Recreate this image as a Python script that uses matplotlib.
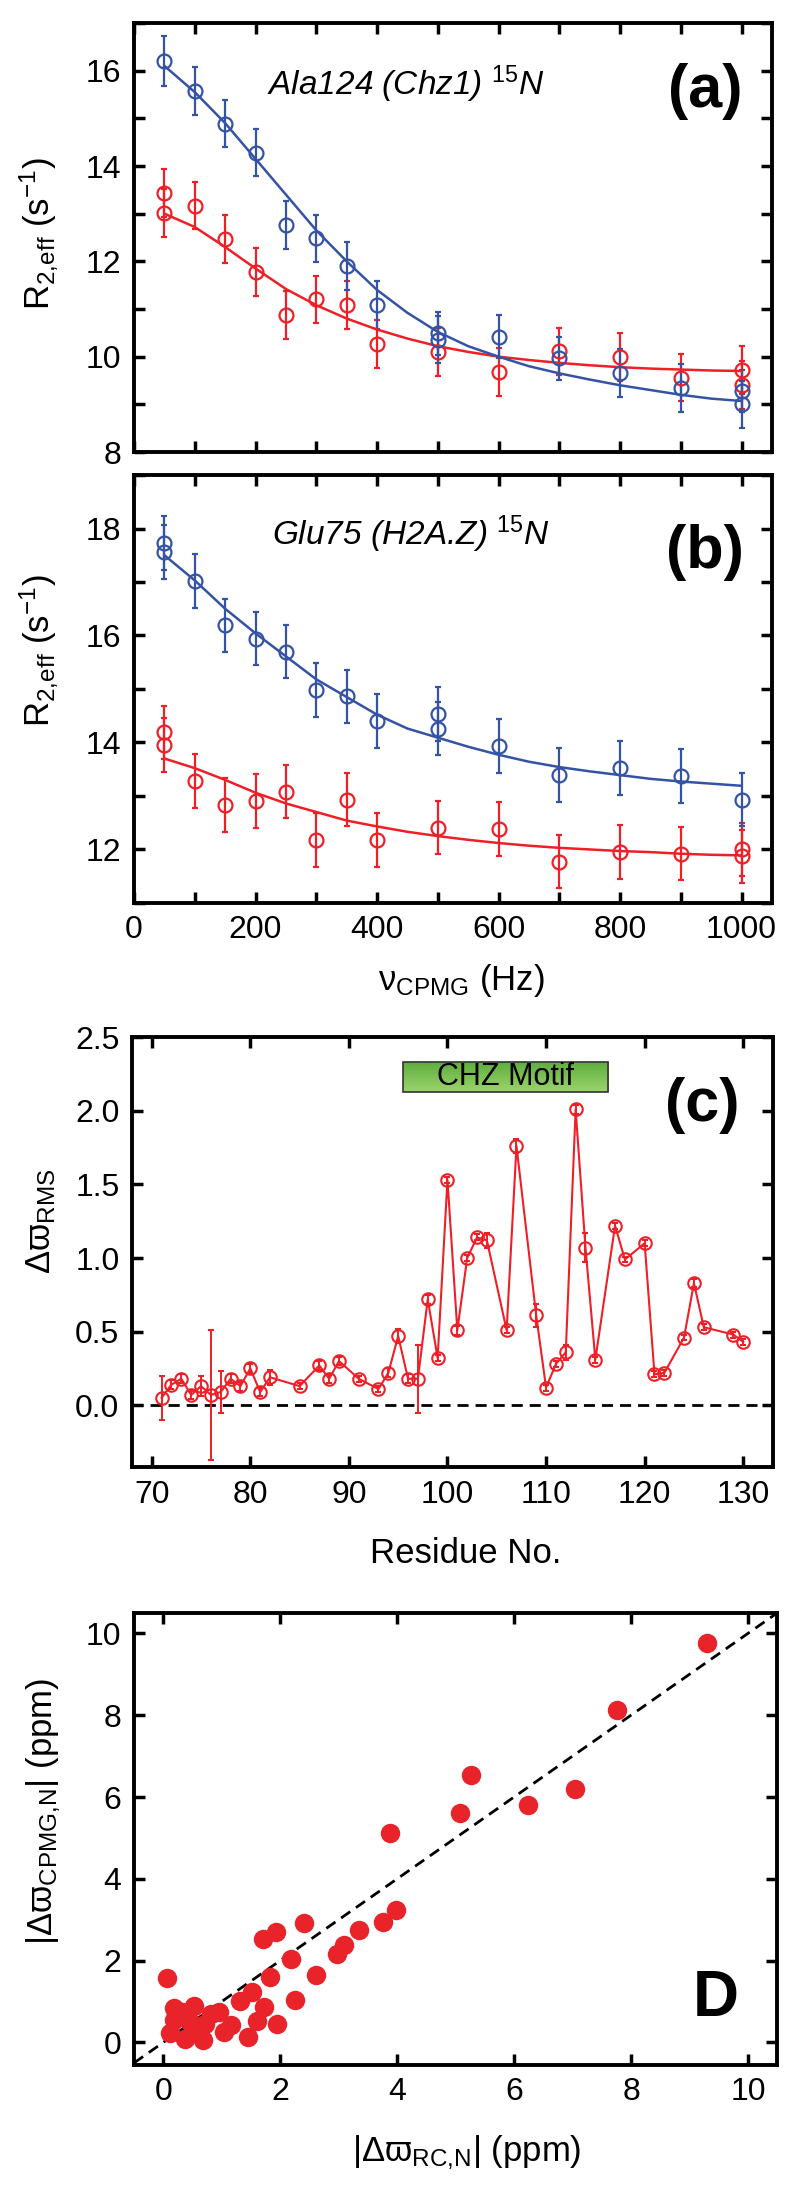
import numpy as np
import matplotlib
matplotlib.use('Agg')
import matplotlib.pyplot as plt
from matplotlib import font_manager
from matplotlib.ticker import MultipleLocator, FormatStrFormatter
from matplotlib.colors import LinearSegmentedColormap

plt.rcParams['font.family'] = ['Liberation Sans', 'DejaVu Sans']
plt.rcParams['mathtext.fontset'] = 'custom'
plt.rcParams['mathtext.rm'] = 'Liberation Sans'
plt.rcParams['mathtext.it'] = 'Liberation Sans:italic'
plt.rcParams['mathtext.bf'] = 'Liberation Sans:bold'

installed = {f.name for f in font_manager.fontManager.ttflist}
NARROW = 'Liberation Sans Narrow' if 'Liberation Sans Narrow' in installed else 'Liberation Sans'

BLUE = '#3553a5'
RED = '#ee1f26'

# ---- panel (a): Ala124 (Chz1)
a_blue_nu = [50, 100, 150, 200, 250, 300, 350, 400, 500, 500, 600, 700, 800, 900, 1000, 1000]
a_blue_r2 = [16.2, 15.57, 14.89, 14.28, 12.76, 12.48, 11.9, 11.08, 10.49, 10.36, 10.42, 9.97, 9.66, 9.34, 9.28, 9.0]
a_blue_err = [0.53, 0.5, 0.5, 0.5, 0.5, 0.5, 0.5, 0.5, 0.45, 0.5, 0.45, 0.45, 0.5, 0.5, 0.45, 0.5]
a_red_nu = [50, 50, 100, 150, 200, 250, 300, 350, 400, 500, 600, 700, 800, 900, 1000, 1000]
a_red_r2 = [13.44, 13.02, 13.17, 12.47, 11.78, 10.87, 11.2, 11.08, 10.26, 10.1, 9.68, 10.11, 9.99, 9.56, 9.72, 9.41]
a_red_err = [0.5, 0.5, 0.5, 0.5, 0.5, 0.5, 0.5, 0.5, 0.5, 0.5, 0.5, 0.5, 0.5, 0.5, 0.5, 0.5]

fit_nu = [50, 100, 150, 200, 250, 300, 350, 400, 450, 500, 550, 600, 650, 700, 750, 800, 850, 900, 950, 1000]
a_blue_fit = [16.1, 15.55, 14.9, 14.15, 13.4, 12.65, 12.0, 11.4, 10.92, 10.52, 10.22, 10.0, 9.8, 9.65, 9.52, 9.4, 9.3, 9.2, 9.12, 9.07]
a_red_fit = [13.0, 12.72, 12.3, 11.85, 11.42, 11.08, 10.8, 10.57, 10.38, 10.22, 10.1, 10.0, 9.93, 9.87, 9.82, 9.78, 9.75, 9.73, 9.71, 9.7]

# ---- panel (b): Glu75 (H2A.Z)
b_blue_nu = [50, 50, 100, 150, 200, 250, 300, 350, 400, 500, 500, 600, 700, 800, 900, 1000]
b_blue_r2 = [17.73, 17.56, 17.02, 16.19, 15.94, 15.7, 14.98, 14.86, 14.4, 14.53, 14.26, 13.93, 13.39, 13.52, 13.37, 12.93]
b_blue_err = [0.5, 0.5, 0.5, 0.5, 0.5, 0.5, 0.5, 0.5, 0.5, 0.5, 0.5, 0.5, 0.5, 0.5, 0.5, 0.5]
b_red_nu = [50, 50, 100, 150, 200, 250, 300, 350, 400, 500, 600, 700, 800, 900, 1000, 1000]
b_red_r2 = [14.19, 13.95, 13.28, 12.83, 12.91, 13.08, 12.18, 12.93, 12.18, 12.41, 12.38, 11.77, 11.95, 11.92, 12.0, 11.87]
b_red_err = [0.5, 0.5, 0.5, 0.5, 0.5, 0.5, 0.5, 0.5, 0.5, 0.5, 0.5, 0.5, 0.5, 0.5, 0.5, 0.5]
b_blue_fit = [17.5, 17.03, 16.5, 16.04, 15.61, 15.18, 14.85, 14.52, 14.26, 14.09, 13.92, 13.77, 13.64, 13.54, 13.46, 13.39, 13.32, 13.27, 13.23, 13.19]
b_red_fit = [13.7, 13.52, 13.3, 13.06, 12.86, 12.7, 12.54, 12.43, 12.33, 12.25, 12.18, 12.12, 12.07, 12.03, 12.0, 11.97, 11.95, 11.92, 11.9, 11.89]

# ---- panel (c): RMS shift per residue
residues = [71, 72, 73, 74, 75, 76, 77, 78, 79, 80, 81, 82, 85, 87, 88, 89, 91, 93, 94, 95,
            96, 97, 98, 99, 100, 101, 102, 103, 104, 106, 107, 109, 110, 111, 112, 113, 114,
            115, 117, 118, 120, 121, 122, 124, 125, 126, 129, 130]
rms = [0.05, 0.14, 0.18, 0.07, 0.13, 0.07, 0.09, 0.18, 0.13, 0.25, 0.09, 0.19, 0.13, 0.27, 0.18,
       0.3, 0.18, 0.11, 0.22, 0.47, 0.18, 0.18, 0.72, 0.32, 1.53, 0.51, 1.0, 1.14, 1.12, 0.51,
       1.76, 0.61, 0.12, 0.28, 0.36, 2.01, 1.07, 0.31, 1.22, 0.99, 1.1, 0.21, 0.22, 0.46, 0.83,
       0.53, 0.48, 0.43]
rms_err = [0.15, 0.03, 0.03, 0.03, 0.07, 0.44, 0.14, 0.03, 0.03, 0.03, 0.03, 0.05, 0.02, 0.03, 0.03,
           0.03, 0.02, 0.02, 0.03, 0.05, 0.03, 0.23, 0.03, 0.02, 0.02, 0.03, 0.02, 0.02, 0.05, 0.02,
           0.05, 0.08, 0.02, 0.02, 0.05, 0.03, 0.1, 0.02, 0.02, 0.02, 0.02, 0.02, 0.02, 0.02, 0.03,
           0.02, 0.02, 0.02]
motif_start, motif_end = 95.5, 116.3

# ---- panel (D): CPMG vs random coil shifts
rc_shift = [9.30, 7.76, 5.26, 7.04, 6.23, 5.08, 3.88, 3.98, 3.76, 3.35, 3.09, 2.98, 2.40, 2.62, 2.19,
            2.25, 1.92, 1.70, 1.83, 1.95, 1.51, 1.73, 1.60, 1.31, 1.45, 1.16, 0.96, 1.04, 0.06, 0.19,
            0.53, 0.11, 0.19, 0.37, 0.68, 0.72, 0.46, 0.32, 0.59, 0.81]
cpmg_shift = [9.77, 8.13, 6.54, 6.19, 5.81, 5.60, 5.13, 3.23, 2.95, 2.75, 2.38, 2.17, 2.93, 1.66, 2.05,
              1.04, 2.69, 2.53, 1.59, 0.46, 1.24, 0.86, 0.53, 1.01, 0.14, 0.43, 0.74, 0.25, 1.57, 0.85,
              0.89, 0.23, 0.55, 0.09, 0.06, 0.46, 0.51, 0.74, 0.32, 0.69]

TICK_FS = 23
LABEL_FS = 25
R2_LABEL = r'R$_{\mathregular{2{,}eff}}$ (s$^{\mathregular{-1}}$)'


def style_axes(ax):
    for s in ax.spines.values():
        s.set_linewidth(2.8)
    ax.tick_params(which='both', direction='in', top=True, right=True,
                   length=8, width=2.5, labelsize=TICK_FS, pad=9)


def place_ylabel(ax, x, y):
    ax.yaxis.set_label_coords(x, y)
    ax.yaxis.label.set_va('center')
    ax.yaxis.label.set_ha('center')


def place_xlabel(ax, x, y):
    ax.xaxis.set_label_coords(x, y)
    ax.xaxis.label.set_va('center')


fig = plt.figure(figsize=(8, 21.9), dpi=100)
ax_a = fig.add_axes([0.1675, 0.7936, 0.7975, 0.1959])
ax_b = fig.add_axes([0.1675, 0.5877, 0.7975, 0.1954])
ax_c = fig.add_axes([0.165, 0.3301, 0.801, 0.1963])
ax_d = fig.add_axes([0.1675, 0.0571, 0.804, 0.2064])

eb_kw = dict(fmt='o', mfc='none', ms=10, mew=1.6, elinewidth=1.6, capsize=2.5, capthick=1.6)

# (a)
ax_a.errorbar(a_red_nu, a_red_r2, yerr=a_red_err, color=RED, **eb_kw)
ax_a.errorbar(a_blue_nu, a_blue_r2, yerr=a_blue_err, color=BLUE, **eb_kw)
ax_a.plot(fit_nu, a_red_fit, color=RED, lw=1.8)
ax_a.plot(fit_nu, a_blue_fit, color=BLUE, lw=1.8)
ax_a.set_xlim(0, 1050)
ax_a.set_ylim(8, 17)
ax_a.xaxis.set_major_locator(MultipleLocator(200))
ax_a.xaxis.set_minor_locator(MultipleLocator(100))
ax_a.yaxis.set_major_locator(MultipleLocator(2))
ax_a.yaxis.set_minor_locator(MultipleLocator(1))
style_axes(ax_a)
ax_a.tick_params(labelbottom=False)
ax_a.set_ylabel(R2_LABEL, fontsize=LABEL_FS)
place_ylabel(ax_a, -0.15, 0.51)
ax_a.text(0.208, 0.858, r'Ala124 (Chz1) $^{\mathit{15}}$N', transform=ax_a.transAxes,
          fontsize=24, style='italic', va='center', ha='left')
ax_a.text(0.895, 0.841, '(a)', transform=ax_a.transAxes, fontsize=44, fontweight='bold',
          ha='center', va='center')

# (b)
ax_b.errorbar(b_red_nu, b_red_r2, yerr=b_red_err, color=RED, **eb_kw)
ax_b.errorbar(b_blue_nu, b_blue_r2, yerr=b_blue_err, color=BLUE, **eb_kw)
ax_b.plot(fit_nu, b_red_fit, color=RED, lw=1.8)
ax_b.plot(fit_nu, b_blue_fit, color=BLUE, lw=1.8)
ax_b.set_xlim(0, 1050)
ax_b.set_ylim(11, 19)
ax_b.xaxis.set_major_locator(MultipleLocator(200))
ax_b.xaxis.set_minor_locator(MultipleLocator(100))
ax_b.yaxis.set_major_locator(MultipleLocator(2))
ax_b.yaxis.set_minor_locator(MultipleLocator(1))
style_axes(ax_b)
ax_b.set_ylabel(R2_LABEL, fontsize=LABEL_FS)
place_ylabel(ax_b, -0.15, 0.59)
ax_b.set_xlabel(r'ν$_{\mathregular{CPMG}}$ (Hz)', fontsize=LABEL_FS)
place_xlabel(ax_b, 0.513, -0.182)
ax_b.text(0.216, 0.862, r'Glu75 (H2A.Z) $^{\mathit{15}}$N', transform=ax_b.transAxes,
          fontsize=24, style='italic', va='center', ha='left')
ax_b.text(0.895, 0.82, '(b)', transform=ax_b.transAxes, fontsize=44, fontweight='bold',
          ha='center', va='center')

# (c)
ax_c.axhline(0, color='black', lw=2, dashes=(4, 2.5))
ax_c.errorbar(residues, rms, yerr=rms_err, fmt='-o', color=RED, mfc='none', ms=9, mew=1.5,
              lw=1.5, elinewidth=1.4, capsize=2.5, capthick=1.4)
grad = np.linspace(0, 1, 64).reshape(-1, 1)
ax_c.imshow(grad, extent=(motif_start, motif_end, 2.13, 2.33),
            cmap=LinearSegmentedColormap.from_list('g', ['#5fae3e', '#9bd46c']),
            aspect='auto', origin='upper', zorder=3)
ax_c.add_patch(plt.Rectangle((motif_start, 2.13), motif_end - motif_start, 0.2, fill=False,
                             ec='#333333', lw=1.2, zorder=4))
ax_c.text((motif_start + motif_end) / 2, 2.23, 'CHZ Motif', fontsize=22, family=NARROW,
          ha='center', va='center', zorder=5)
ax_c.set_xlim(68, 133)
ax_c.set_ylim(-0.42, 2.5)
ax_c.xaxis.set_major_locator(MultipleLocator(10))
ax_c.yaxis.set_major_locator(MultipleLocator(0.5))
ax_c.yaxis.set_major_formatter(FormatStrFormatter('%.1f'))
style_axes(ax_c)
ax_c.set_ylabel(r'Δϖ$_{\mathregular{RMS}}$', fontsize=LABEL_FS)
place_ylabel(ax_c, -0.142, 0.572)
ax_c.set_xlabel('Residue No.', fontsize=LABEL_FS)
place_xlabel(ax_c, 0.52, -0.2)
ax_c.text(0.89, 0.842, '(c)', transform=ax_c.transAxes, fontsize=44, fontweight='bold',
          ha='center', va='center')

# (D)
ax_d.axline((0, 0), slope=1, color='black', lw=2, dashes=(4, 2.5))
ax_d.plot(rc_shift, cpmg_shift, 'o', color='#e8232a', ms=14, mec='none', zorder=3)
ax_d.set_xlim(-0.5, 10.5)
ax_d.set_ylim(-0.55, 10.5)
ax_d.xaxis.set_major_locator(MultipleLocator(2))
ax_d.yaxis.set_major_locator(MultipleLocator(2))
style_axes(ax_d)
ax_d.set_ylabel(r'|Δϖ$_{\mathregular{CPMG{,}N}}$| (ppm)', fontsize=LABEL_FS)
place_ylabel(ax_d, -0.14, 0.56)
ax_d.set_xlabel(r'|Δϖ$_{\mathregular{RC{,}N}}$| (ppm)', fontsize=LABEL_FS)
place_xlabel(ax_d, 0.518, -0.195)
ax_d.text(0.904, 0.146, 'D', transform=ax_d.transAxes, fontsize=46, fontweight='bold',
          ha='center', va='center')

fig.savefig('out.png', dpi=100)
